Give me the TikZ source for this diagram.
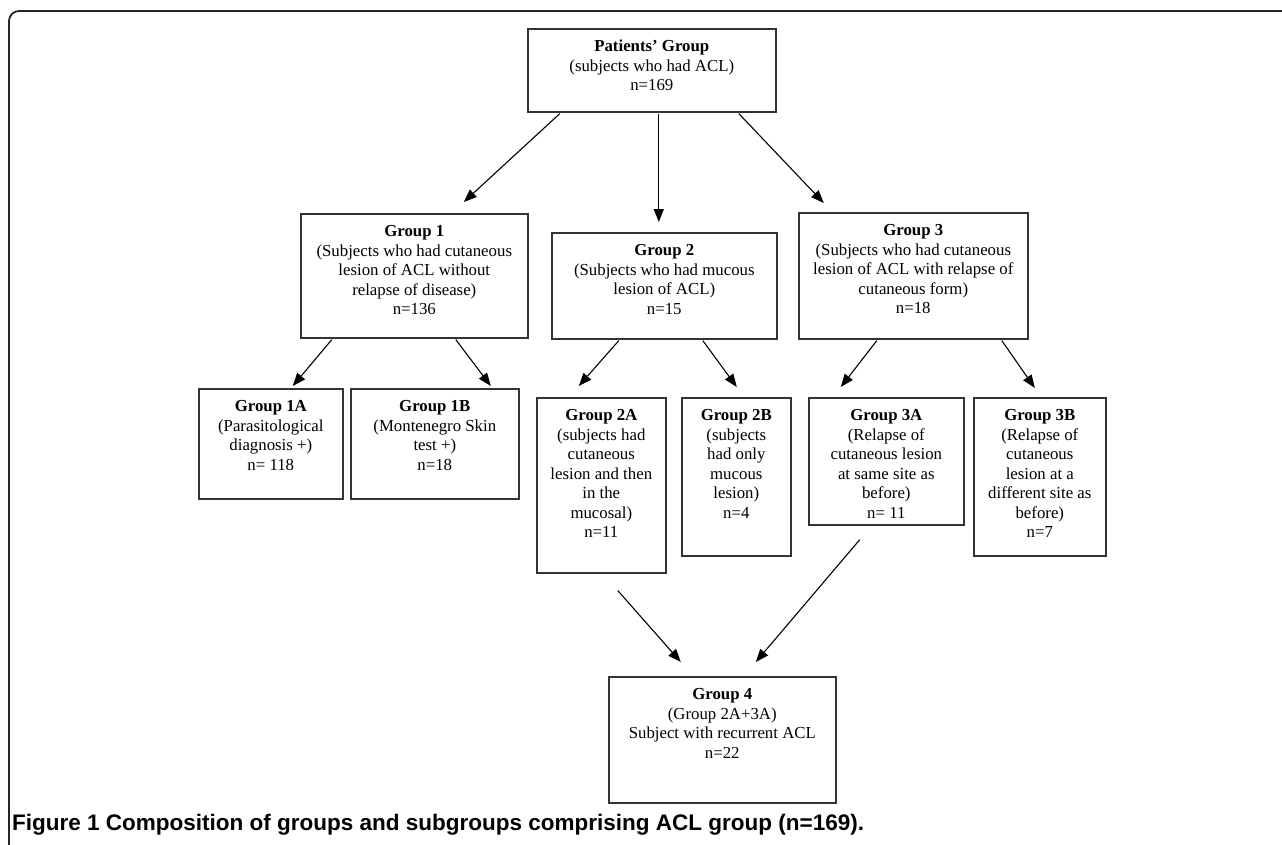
\documentclass[tikz,border=0pt]{standalone}
\usepackage{fontspec}
\setmainfont{Liberation Serif}
\newfontfamily\capfont{Liberation Sans}
\usetikzlibrary{arrows.meta,calc}

\tikzset{
  grpbox/.style={draw=black!80, line width=1.6pt, inner sep=0pt, anchor=north west,
    font=\fontsize{16.8}{19.5}\selectfont},
  arr/.style={->, line width=1.1pt}
}
% W, H, title, rest of the lines
\newcommand{\grp}[4]{\parbox[t][#2pt][t]{#1pt}{\centering\rule{0pt}{23pt}\textbf{#3}\\#4}}

\begin{document}
\begin{tikzpicture}[x=1pt, y=-1pt, >={Triangle[length=13pt,width=10pt]}]
        \useasboundingbox (0,0) rectangle (1282,844);
        % frame
        \draw[line width=1.8pt, black!85, rounded corners=10pt] (9,848) -- (9,11) -- (1290,11);

        % top
        \node[grpbox] (pat) at (527,28) {\grp{248}{83}{Patients' Group}{(subjects who had ACL)\\n=169}};

        % groups
        \node[grpbox] (g1) at (300,213) {\grp{227}{124}{Group 1}{(Subjects who had cutaneous\\lesion of ACL without\\relapse of disease)\\n=136}};
        \node[grpbox] (g2) at (551,232) {\grp{225}{106}{Group 2}{(Subjects who had mucous\\lesion of ACL)\\n=15}};
        \node[grpbox] (g3) at (798,212) {\grp{229}{126}{Group 3}{(Subjects who had cutaneous\\lesion of ACL with relapse of\\cutaneous form)\\n=18}};

        % subgroups
        \node[grpbox] (g1a) at (198,388) {\grp{144}{110}{Group 1A}{(Parasitological\\diagnosis +)\\n= 118}};
        \node[grpbox] (g1b) at (350,388) {\grp{168}{110}{Group 1B}{(Montenegro Skin\\test +)\\n=18}};
        \node[grpbox] (g2a) at (536,397) {\grp{129}{175}{Group 2A}{(subjects had\\cutaneous\\lesion and then\\in the\\mucosal)\\n=11}};
        \node[grpbox] (g2b) at (681,397) {\grp{109}{158}{Group 2B}{(subjects\\had only\\mucous\\lesion)\\n=4}};
        \node[grpbox] (g3a) at (808,397) {\grp{155}{127}{Group 3A}{(Relapse of\\cutaneous lesion\\at same site as\\before)\\n= 11}};
        \node[grpbox] (g3b) at (973,397) {\grp{132}{158}{Group 3B}{(Relapse of\\cutaneous\\lesion at a\\different site as\\before)\\n=7}};

        % recurrent
        \node[grpbox] (g4) at (608,676) {\grp{227}{126}{Group 4}{(Group 2A+3A)\\Subject with recurrent ACL\\n=22}};

        % arrows
        \draw[arr] ($(pat.south)+(-92,1)$) -- ($(g1.north)+(49.5,-11)$);
        \draw[arr] ($(pat.south)+(7,1)$) -- ($(g2.north)+(-5.5,-10)$);
        \draw[arr] ($(pat.south)+(87,1)$) -- ($(g3.north)+(-89.5,-9)$);

        \draw[arr] ($(g1.south)+(-82.5,1)$) -- ($(g1a.north)+(22,-2)$);
        \draw[arr] ($(g1.south)+(41.5,1)$) -- ($(g1b.north)+(56,-2)$);
        \draw[arr] ($(g2.south)+(-45.5,1)$) -- ($(g2a.north)+(-22.5,-11)$);
        \draw[arr] ($(g2.south)+(38.5,1)$) -- ($(g2b.north)+(0.5,-10)$);
        \draw[arr] ($(g3.south)+(-36.5,1)$) -- ($(g3a.north)+(-45.5,-10)$);
        \draw[arr] ($(g3.south)+(88.5,1)$) -- ($(g3b.north)+(-5,-9)$);

        \draw[arr] ($(g2a.south)+(16.5,17)$) -- ($(g4.north)+(-41.5,-14)$);
        \draw[arr] ($(g3a.south)+(-26.5,14)$) -- ($(g4.north)+(33.5,-14)$);

        % caption
        \node[anchor=base west, inner sep=0pt, font=\capfont\bfseries\fontsize{22.5}{26}\selectfont] (cap) at (12,830)
            {Figure 1 Composition of groups and subgroups comprising ACL group (n=169).};
    \end{tikzpicture}
\end{document}
